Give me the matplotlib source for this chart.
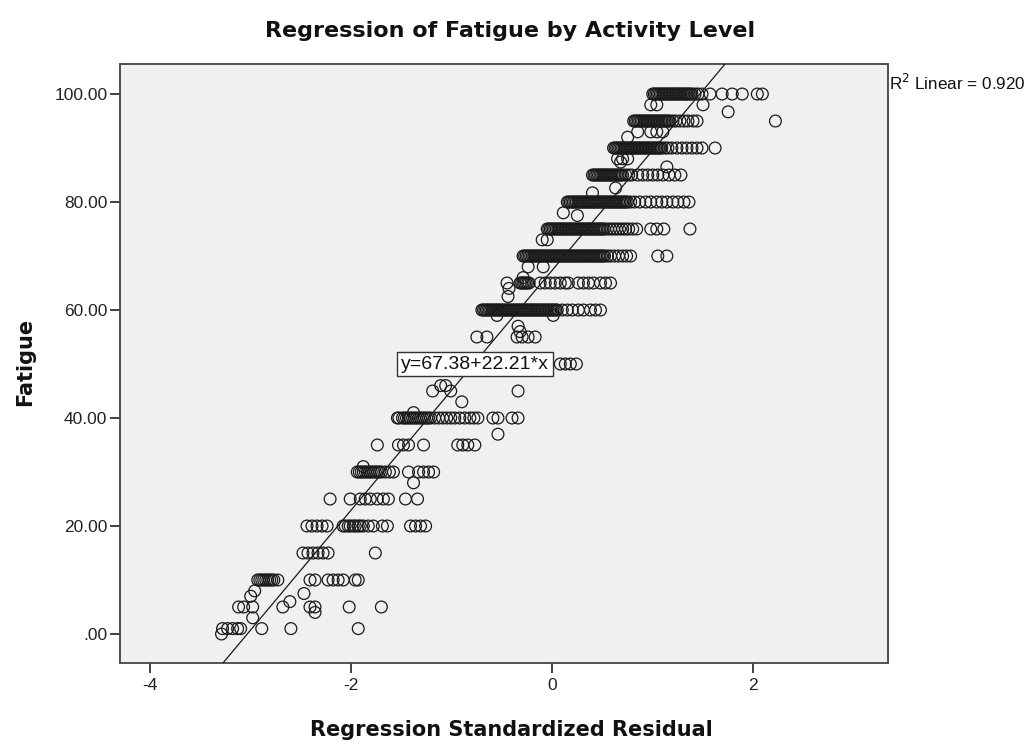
import matplotlib
matplotlib.use("Agg")
import matplotlib.pyplot as plt
import numpy as np

plt.rcParams['font.family'] = ['Liberation Sans', 'DejaVu Sans']

# ---- data: fatigue level -> standardized residuals ----
fatigue_levels = [0, 1, 3, 4, 5, 6, 7, 7.5, 8, 10, 15, 20, 25, 28, 30, 31, 35, 37, 40, 41, 43, 45, 46,
                  50, 55, 56, 57, 59, 60, 62.5, 64, 65, 66, 68, 70, 73, 75, 77.5, 78, 80, 81.7, 82.6,
                  85, 86.5, 87.4, 88, 90, 92, 93, 95, 96.7, 98, 100]
residuals = [
    [-3.29],
    [-3.28, -3.23, -3.18, -3.13, -3.10, -2.89, -2.60, -1.93],
    [-2.98],
    [-2.36],
    [-3.12, -3.07, -2.98, -2.68, -2.41, -2.36, -2.02, -1.70],
    [-2.61],
    [-3.00],
    [-2.47],
    [-2.96],
    [-2.93, -2.89, -2.85, -2.81, -2.77, -2.73, -2.41, -2.36, -2.23, -2.18, -2.13, -2.08, -1.96, -1.93],
    [-2.48, -2.43, -2.38, -2.33, -2.28, -2.23, -1.76],
    [-2.44, -2.39, -2.34, -2.29, -2.24, -2.08, -2.03, -1.98, -1.93, -1.88, -1.83, -1.78, -1.69, -1.64,
     -1.41, -1.36, -1.31, -1.26],
    [-2.21, -2.01, -1.91, -1.86, -1.81, -1.74, -1.68, -1.63, -1.46, -1.34],
    [-1.38],
    [-1.94, -1.90, -1.86, -1.82, -1.78, -1.74, -1.70, -1.66, -1.62, -1.58, -1.43, -1.33, -1.28, -1.23, -1.18],
    [-1.88],
    [-1.74, -1.53, -1.48, -1.43, -1.28, -0.94, -0.89, -0.84, -0.77],
    [-0.54],
    [-1.54, -1.49, -1.45, -1.41, -1.37, -1.33, -1.29, -1.25, -1.21, -1.17, -1.13, -1.09, -1.05, -1.01,
     -0.97, -0.92, -0.87, -0.82, -0.78, -0.74, -0.59, -0.54, -0.40, -0.34],
    [-1.38],
    [-0.90],
    [-1.19, -1.01, -0.34],
    [-1.11, -1.06],
    [0.08, 0.13, 0.18, 0.24],
    [-0.75, -0.65, -0.35, -0.30, -0.24, -0.17],
    [-0.32],
    [-0.34],
    [-0.55, 0.01],
    [-0.70, -0.67, -0.64, -0.61, -0.58, -0.55, -0.52, -0.49, -0.46, -0.43, -0.40, -0.37, -0.34, -0.31,
     -0.28, -0.25, -0.22, -0.19, -0.16, -0.13, -0.10, -0.07, -0.04, -0.01, 0.02, 0.05,
     0.10, 0.15, 0.20, 0.26, 0.31, 0.38, 0.43, 0.48],
    [-0.44],
    [-0.43],
    [-0.45, -0.32, -0.29, -0.26, -0.23, -0.12, -0.07, -0.02, 0.03, 0.08, 0.13, 0.16, 0.26, 0.31, 0.36,
     0.41, 0.48, 0.53, 0.58],
    [-0.29],
    [-0.24, -0.09],
    [-0.29, -0.26, -0.23, -0.20, -0.17, -0.14, -0.11, -0.08, -0.05, -0.02, 0.01, 0.04, 0.07, 0.10, 0.13,
     0.16, 0.19, 0.22, 0.25, 0.28, 0.31, 0.34, 0.37, 0.40, 0.43, 0.46, 0.49, 0.52, 0.55, 0.58, 0.62,
     0.66, 0.70, 0.74, 0.78, 1.05, 1.14],
    [-0.10, -0.05],
    [-0.05, -0.02, 0.01, 0.04, 0.07, 0.10, 0.13, 0.16, 0.19, 0.22, 0.25, 0.28, 0.31, 0.34, 0.37, 0.40,
     0.43, 0.46, 0.49, 0.52, 0.55, 0.58, 0.61, 0.64, 0.67, 0.70, 0.73, 0.76, 0.80, 0.84,
     0.98, 1.04, 1.11, 1.37],
    [0.25],
    [0.11],
    [0.15, 0.18, 0.21, 0.24, 0.27, 0.30, 0.33, 0.36, 0.39, 0.42, 0.45, 0.48, 0.51, 0.54, 0.57, 0.60,
     0.63, 0.66, 0.69, 0.72, 0.75, 0.78, 0.82, 0.87, 0.93, 0.98, 1.04, 1.09, 1.14, 1.20, 1.25, 1.31, 1.36],
    [0.40],
    [0.63],
    [0.40, 0.43, 0.46, 0.49, 0.52, 0.55, 0.58, 0.61, 0.64, 0.67, 0.70, 0.73, 0.76, 0.79,
     0.85, 0.90, 0.95, 1.00, 1.05, 1.10, 1.16, 1.22, 1.28],
    [1.14],
    [0.68],
    [0.65, 0.70, 0.75],
    [0.61, 0.64, 0.67, 0.70, 0.73, 0.76, 0.79, 0.82, 0.85, 0.88, 0.91, 0.94, 0.97, 1.00, 1.03, 1.06,
     1.09, 1.12, 1.15, 1.19, 1.24, 1.29, 1.34, 1.39, 1.44, 1.49, 1.62],
    [0.75],
    [0.85, 0.98, 1.04, 1.10],
    [0.81, 0.84, 0.87, 0.90, 0.93, 0.96, 0.99, 1.02, 1.05, 1.08, 1.11, 1.14, 1.17, 1.20, 1.23, 1.27,
     1.31, 1.35, 1.40, 1.44, 2.22],
    [1.75],
    [0.98, 1.04, 1.50],
    [1.00, 1.03, 1.06, 1.09, 1.12, 1.15, 1.18, 1.21, 1.24, 1.27, 1.30, 1.33, 1.36, 1.39, 1.42, 1.45,
     1.49, 1.57, 1.69, 1.79, 1.89, 2.04, 2.09],
]

# additional cases in the heavily overplotted (solid black) stretches
dense_levels = [10, 20, 30, 40, 60, 65, 70, 75, 80, 85, 90, 95, 100]
dense_residuals = [
    [-2.91, -2.87, -2.83, -2.79],
    [-2.06, -2.01, -1.96, -1.91],
    [-1.92, -1.88, -1.84, -1.80, -1.76, -1.72],
    [-1.525, -1.47, -1.43, -1.39, -1.35, -1.31, -1.27, -1.23],
    [-0.685, -0.655, -0.625, -0.595, -0.565, -0.535, -0.505, -0.475, -0.445, -0.415, -0.385, -0.355,
     -0.325, -0.295, -0.265, -0.235, -0.205, -0.175, -0.145, -0.115, -0.085, -0.055, -0.025, 0.005, 0.035],
    [-0.305, -0.275, -0.245],
    [-0.275, -0.245, -0.215, -0.185, -0.155, -0.125, -0.095, -0.065, -0.035, -0.005, 0.025, 0.055,
     0.085, 0.115, 0.145, 0.175, 0.205, 0.235, 0.265, 0.295, 0.325, 0.355, 0.385, 0.415, 0.445, 0.475, 0.505],
    [-0.035, -0.005, 0.025, 0.055, 0.085, 0.115, 0.145, 0.175, 0.205, 0.235, 0.265, 0.295, 0.325,
     0.355, 0.385, 0.415, 0.445, 0.475, 0.505],
    [0.165, 0.195, 0.225, 0.255, 0.285, 0.315, 0.345, 0.375, 0.405, 0.435, 0.465, 0.495, 0.525, 0.555,
     0.585, 0.615, 0.645, 0.675, 0.705, 0.735],
    [0.415, 0.445, 0.475, 0.505, 0.535, 0.565, 0.595, 0.625, 0.655, 0.685],
    [0.625, 0.655, 0.685, 0.715, 0.745, 0.775, 0.805, 0.835, 0.865, 0.895, 0.925, 0.955, 0.985, 1.015,
     1.045, 1.075],
    [0.825, 0.855, 0.885, 0.915, 0.945, 0.975, 1.005, 1.035, 1.065, 1.095, 1.125, 1.155],
    [1.015, 1.045, 1.075, 1.105, 1.135, 1.165, 1.195, 1.225, 1.255, 1.285, 1.315, 1.345, 1.375],
]

intercept = 67.38
slope = 22.21
r_squared = 0.920

x_ticks = [-4, -2, 0, 2]
x_tick_labels = ['-4', '-2', '0', '2']
y_ticks = [0, 20, 40, 60, 80, 100]
y_tick_labels = ['.00', '20.00', '40.00', '60.00', '80.00', '100.00']

# ---- build points ----
xs, ys = [], []
for lvls, resl in ((fatigue_levels, residuals), (dense_levels, dense_residuals)):
    for lvl, res in zip(lvls, resl):
        for r in res:
            xs.append(r)
            ys.append(lvl)

fig = plt.figure(figsize=(10.29, 7.5), dpi=100)
L, R, T, B = 120, 888, 64, 663
ax = fig.add_axes([L/1029, 1 - B/750, (R-L)/1029, (B-T)/750])
ax.set_facecolor('#F0F0F0')

ax.scatter(xs, ys, s=72, facecolors='none', edgecolors='#1a1a1a', linewidths=0.9, zorder=3)

xlim = (-4.30, 3.34)
ylim = (-5.37, 105.56)
ax.set_xlim(*xlim)
ax.set_ylim(*ylim)

lx = np.array(xlim)
ax.plot(lx, intercept + slope * lx, color='#1a1a1a', linewidth=0.9, zorder=4)

ax.text(-0.77, 50, 'y=67.38+22.21*x', fontsize=14, ha='center', va='center', zorder=5,
        color='#111111',
        bbox=dict(boxstyle='square,pad=0.2', facecolor='white', edgecolor='#333333', linewidth=1))

ax.set_xticks(x_ticks)
ax.set_xticklabels(x_tick_labels)
ax.set_yticks(y_ticks)
ax.set_yticklabels(y_tick_labels)
ax.tick_params(direction='out', length=7, width=1.3, color='#333333', labelsize=12.5,
               labelcolor='#222222')
ax.tick_params(axis='y', pad=2)
ax.tick_params(axis='x', pad=4)
for sp in ax.spines.values():
    sp.set_color('#444444')
    sp.set_linewidth(1.3)

lab_font = dict(family=['DejaVu Sans'], fontsize=15, fontweight='bold', color='#111111')
ax.set_xlabel('Regression Standardized Residual', **lab_font)
ax.xaxis.set_label_coords((511 - L) / (R - L), (B - 730) / (B - T))
ax.xaxis.label.set_va('center')
ax.set_ylabel('Fatigue', **lab_font)
ax.yaxis.set_label_coords((25 - L) / (R - L), (B - 362) / (B - T))
ax.yaxis.label.set_va('center')

title_font = dict(lab_font, fontsize=16)
fig.text(510/1029, 1 - 31/750, 'Regression of Fatigue by Activity Level',
         ha='center', va='center', **title_font)

fig.text(889/1029, 1 - 83/750, 'R$^2$ Linear = %.3f' % r_squared, fontsize=12.3,
         ha='left', va='center', color='#111111')

fig.savefig('out.png', dpi=100)
